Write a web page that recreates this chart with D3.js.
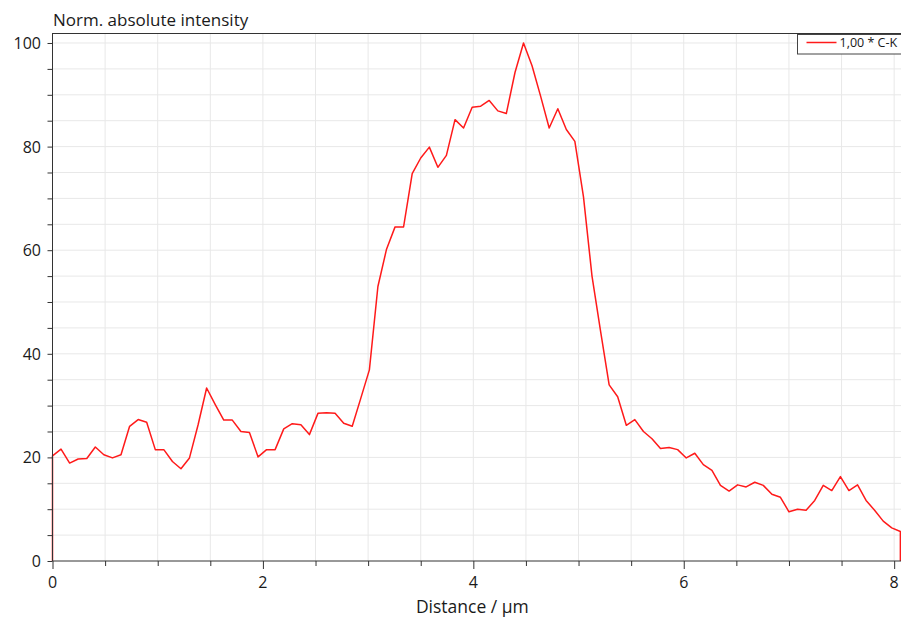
<!DOCTYPE html>
<html>
<head>
    <meta charset="utf-8">
    <script src="https://d3js.org/d3.v7.min.js"></script>
    <style>
        body { margin: 0; background: #fff; }
        text { font-family: "Open Sans", "Noto Sans", sans-serif; fill: #1a1a1a; }
    </style>
</head>
<body>
    <div id="cont"></div>

    <script>
        // distance (µm) and normalised intensity
        var distance = [0, 0.081, 0.163, 0.244, 0.326, 0.407, 0.488, 0.570, 0.651, 0.733,
            0.814, 0.895, 0.977, 1.058, 1.140, 1.221, 1.302, 1.384, 1.465, 1.547,
            1.628, 1.709, 1.791, 1.872, 1.954, 2.035, 2.116, 2.198, 2.279, 2.361,
            2.442, 2.523, 2.605, 2.686, 2.768, 2.849, 2.930, 3.012, 3.093, 3.175,
            3.256, 3.337, 3.419, 3.500, 3.582, 3.663, 3.744, 3.826, 3.907, 3.989,
            4.070, 4.151, 4.233, 4.314, 4.396, 4.477, 4.558, 4.640, 4.721, 4.803,
            4.884, 4.965, 5.047, 5.128, 5.210, 5.291, 5.372, 5.454, 5.535, 5.617,
            5.698, 5.779, 5.861, 5.942, 6.024, 6.105, 6.186, 6.268, 6.349, 6.431,
            6.512, 6.593, 6.675, 6.756, 6.838, 6.919, 7.000, 7.082, 7.163, 7.245,
            7.326, 7.407, 7.489, 7.570, 7.652, 7.733, 7.814, 7.896, 7.977, 8.059];

        var intensity = [20.3, 21.6, 18.9, 19.7, 19.8, 22.0, 20.5, 19.9, 20.5, 26.0,
            27.3, 26.8, 21.5, 21.5, 19.2, 17.8, 19.9, 26.3, 33.4, 30.2,
            27.2, 27.2, 25.0, 24.8, 20.1, 21.5, 21.5, 25.5, 26.5, 26.3,
            24.4, 28.5, 28.6, 28.5, 26.6, 26.0, 31.4, 36.9, 53.0, 60.2,
            64.5, 64.5, 74.8, 77.8, 79.9, 76.0, 78.3, 85.2, 83.6, 87.6,
            87.8, 88.9, 86.9, 86.4, 94.3, 100.0, 95.6, 89.7, 83.6, 87.3,
            83.3, 81.0, 70.3, 55.0, 44.3, 34.0, 31.7, 26.2, 27.3, 25.0,
            23.6, 21.7, 21.9, 21.5, 19.9, 20.8, 18.6, 17.5, 14.6, 13.5,
            14.7, 14.3, 15.2, 14.6, 12.9, 12.3, 9.5, 10.0, 9.8, 11.7,
            14.6, 13.6, 16.3, 13.6, 14.7, 11.7, 9.8, 7.7, 6.4, 5.7];

        var xTickLabels = [0, 2, 4, 6, 8];
        var yTickLabels = [0, 20, 40, 60, 80, 100];
        var legendLabel = "1,00 * C-K";

        var W = 901, H = 621;
        var plotL = 52.5, plotR = 901, plotT = 33, plotB = 561;

        var svg = d3.select("#cont").append("svg")
            .attr("width", W)
            .attr("height", H);

        var x = d3.scaleLinear().domain([0, 8.065]).range([plotL, plotR]);
        var y = d3.scaleLinear().domain([0, 101.93]).range([plotB, plotT]);

        // grid, every 0.5 µm and every 5 units
        var xGrid = d3.range(0.5, 8.05, 0.5);
        var yGrid = d3.range(5, 101, 5);

        svg.append("g").selectAll("line").data(xGrid).join("line")
            .attr("x1", d => x(d)).attr("x2", d => x(d))
            .attr("y1", plotT).attr("y2", plotB)
            .attr("stroke", "#e8e8e8").attr("stroke-width", 1);

        svg.append("g").selectAll("line").data(yGrid).join("line")
            .attr("x1", plotL).attr("x2", plotR)
            .attr("y1", d => y(d)).attr("y2", d => y(d))
            .attr("stroke", "#e8e8e8").attr("stroke-width", 1);

        // profile line, dropped to zero at both ends
        var pts = distance.map((d, i) => [d, intensity[i]]);
        pts.unshift([distance[0], 0]);
        pts.push([distance[distance.length - 1], 0]);

        var line = d3.line().x(d => x(d[0])).y(d => y(d[1]));

        svg.append("path")
            .datum(pts)
            .attr("fill", "none")
            .attr("stroke", "#ff1a1a")
            .attr("stroke-width", 1.5)
            .attr("stroke-linejoin", "round")
            .attr("d", line);

        // frame
        svg.append("line").attr("x1", plotL).attr("x2", plotR).attr("y1", plotT + 0.5).attr("y2", plotT + 0.5)
            .attr("stroke", "#333");

        var xAxis = d3.axisBottom(x).tickValues(xGrid.concat([0]))
            .tickSize(5).tickFormat("");
        svg.append("g").attr("transform", "translate(0," + plotB + ")").call(xAxis)
            .call(g => g.select(".domain").attr("stroke", "#333").attr("d", "M" + plotL + ",0H" + plotR))
            .call(g => g.selectAll(".tick line").attr("stroke", "#333")
                .attr("y2", d => (d % 2 === 0 ? 8 : 5)));

        var yAxis = d3.axisLeft(y).tickValues(yGrid.concat([0]))
            .tickSize(5).tickFormat("");
        svg.append("g").attr("transform", "translate(" + plotL + ",0)").call(yAxis)
            .call(g => g.select(".domain").attr("stroke", "#333").attr("d", "M0," + plotB + "V" + plotT))
            .call(g => g.selectAll(".tick line").attr("stroke", "#333"));

        svg.append("g").selectAll("text").data(xTickLabels).join("text")
            .attr("x", d => x(d)).attr("y", 588)
            .attr("text-anchor", "middle")
            .attr("font-size", 16)
            .text(d => d);

        svg.append("g").selectAll("text").data(yTickLabels).join("text")
            .attr("x", 41).attr("y", d => y(d) + 6)
            .attr("text-anchor", "end")
            .attr("font-size", 16)
            .text(d => d);

        svg.append("text")
            .attr("x", x(4) - 1).attr("y", 613)
            .attr("text-anchor", "middle")
            .attr("font-size", 17.5)
            .text("Distance / µm");

        svg.append("text")
            .attr("x", 53).attr("y", 26)
            .attr("font-size", 17)
            .text("Norm. absolute intensity");

        // legend
        var lg = svg.append("g").attr("transform", "translate(797.5,34.5)");
        lg.append("rect").attr("width", 110).attr("height", 19.5)
            .attr("fill", "#fff").attr("stroke", "#444").attr("stroke-width", 1);
        lg.append("line").attr("x1", 9).attr("x2", 39).attr("y1", 8).attr("y2", 8)
            .attr("stroke", "#ff1a1a").attr("stroke-width", 1.5);
        lg.append("text").attr("x", 42).attr("y", 12.5)
            .attr("font-size", 12.5)
            .text(legendLabel);
    </script>
</body>
</html>
